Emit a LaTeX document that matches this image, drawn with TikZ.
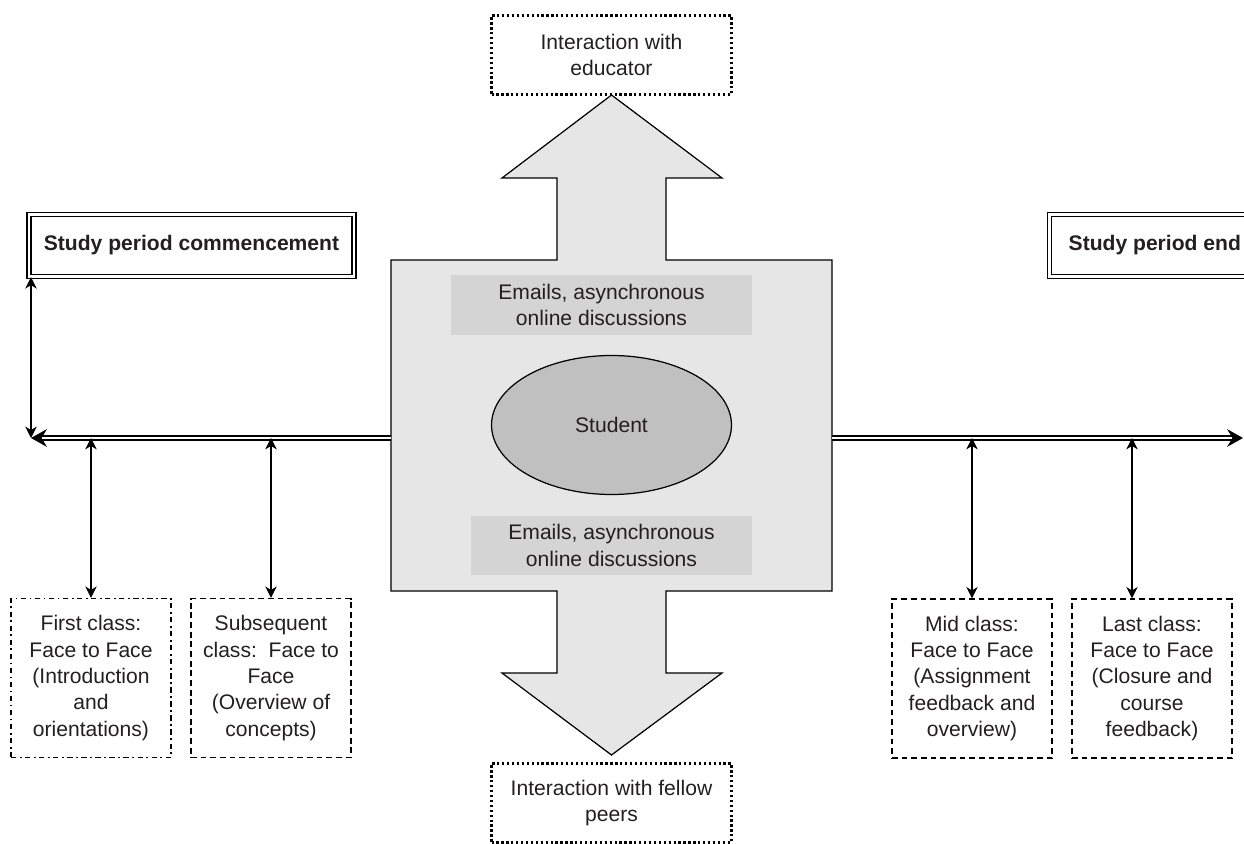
\documentclass[tikz,border=0pt]{standalone}
\usepackage{fontspec}
\setmainfont{Liberation Sans}
\usetikzlibrary{arrows.meta,shapes.geometric,calc}
\definecolor{inkgray}{HTML}{231F20}
\definecolor{hubgray}{HTML}{E6E6E6}
\definecolor{mailgray}{HTML}{D4D4D4}
\definecolor{studgray}{HTML}{C0C0C0}
\tikzset{
  txt/.style={font=\fontsize{12pt}{15pt}\selectfont, text=inkgray, align=center},
  periodbox/.style={txt, font=\fontsize{12pt}{15pt}\selectfont\bfseries, draw, line width=0.8pt,
    double, double distance=1.4pt, minimum height=1.24cm},
  peerbox/.style={txt, draw, line width=1.3pt, dash pattern=on 1.3pt off 1.5pt,
    minimum width=4.8cm, minimum height=1.58cm},
  classbox/.style={txt, draw, line width=0.7pt, dash pattern=on 3.3pt off 2.2pt,
    minimum width=3.2cm, minimum height=3.18cm, inner sep=1pt},
  dashdotbox/.style={classbox, dash pattern=on 3pt off 2pt on 1pt off 2pt},
  mailbox/.style={txt, fill=mailgray, minimum height=1.2cm},
  conn/.style={line width=0.6pt, {Stealth[length=6.5pt,width=6.5pt,inset=2pt]}-{Stealth[length=6.5pt,width=6.5pt,inset=2pt]}},
  timeline/.style={line width=0.9pt, double, double distance=1.2pt, -{Stealth[length=9pt,width=10pt,inset=3pt]}}
}
\begin{document}
\begin{tikzpicture}[x=0.02cm, y=-0.02cm]
  \useasboundingbox (0,0) rectangle (1244,844);
  % Hub arrows
  \draw[fill=hubgray, line width=0.7pt] (391,260) -- (557,260) -- (557,178) -- (502,178) -- (611.5,95)
    -- (722,178) -- (666,178) -- (666,260) -- (832,260) -- (832,591) -- (666,591) -- (666,673)
    -- (722,673) -- (611.5,755) -- (502,673) -- (557,673) -- (557,591) -- (391,591) -- cycle;
  \coordinate (hubw) at (391,438);
  \coordinate (hube) at (832,438);
  \node[mailbox, minimum width=6.02cm] (mailup) at (601.5,305) {Emails, asynchronous\\online discussions};
  \node[mailbox, minimum width=5.62cm] (maildown) at (611.5,545.5) {Emails, asynchronous\\online discussions};
  \node[txt, ellipse, draw, fill=studgray, line width=0.7pt, minimum width=4.8cm, minimum height=2.78cm] (student) at (611.5,425) {Student};
  \node[peerbox] (educator) at (611.5,55) {Interaction with\\educator};
  \node[peerbox] (peers) at (611.5,803) {Interaction with fellow\\peers};
  % Study period
  \node[periodbox, minimum width=6.5cm] (start) at (191.5,245.5) {Study period commencement};
  \node[periodbox, anchor=west, inner xsep=0.38cm] (finish) at (1049,245.5) {Study period end\hspace{0.2cm}};
  \coordinate (tl) at (31,438);
  \coordinate (tr) at (1243,438);
  \draw[timeline] (hubw) -- (tl);
  \draw[timeline] (hube) -- (tr);
  \draw[conn] (tl |- start.south) -- (tl);
  % Classes
  \node[dashdotbox] (first) at (91,678) {First class:\\Face to Face\\(Introduction\\and\\orientations)};
  \node[classbox] (subseq) at (271,678) {Subsequent\\class:\ \ Face to\\Face\\(Overview of\\concepts)};
  \node[classbox] (mid) at (972,678.5) {Mid class:\\Face to Face\\(Assignment\\feedback and\\overview)};
  \node[classbox] (last) at (1152,678.5) {Last class:\\Face to Face\\ (Closure and\\course\\feedback)};
  \draw[conn] (first.north |- tl) -- (first.north);
  \draw[conn] (subseq.north |- tl) -- (subseq.north);
  \draw[conn] (mid.north |- tl) -- (mid.north);
  \draw[conn] ([xshift=-0.4cm]last.north |- tl) -- ([xshift=-0.4cm]last.north);
\end{tikzpicture}
\end{document}
